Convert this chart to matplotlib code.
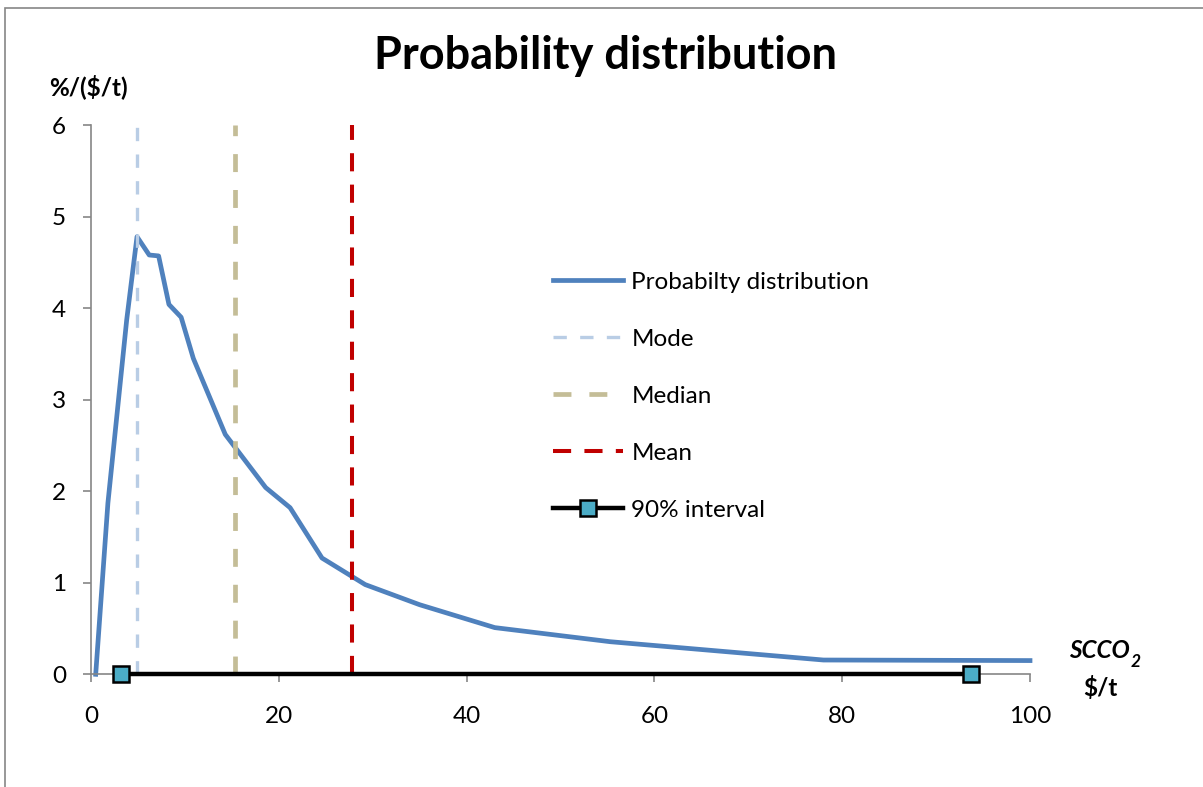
import matplotlib
matplotlib.use('Agg')
import matplotlib.pyplot as plt
from matplotlib.patches import Rectangle

plt.rcParams['font.family'] = ['Lato', 'DejaVu Sans']

# probability density
x_pdf = [0.5, 1.8, 3.8, 4.9, 6.2, 7.2, 8.3, 9.6, 10.9, 14.3, 18.6, 21.2, 24.6,
         29.2, 35.0, 43.0, 55.3, 78.0, 100.0]
y_pdf = [0.0, 1.87, 3.87, 4.78, 4.58, 4.57, 4.04, 3.90, 3.45, 2.62, 2.04, 1.82,
         1.27, 0.98, 0.76, 0.51, 0.356, 0.156, 0.15]

mode_x = 4.85
median_x = 15.3
mean_x = 27.8
interval_x = [3.2, 93.7]
interval_y = [0, 0]

fs = 17.5

fig = plt.figure(figsize=(12.03, 7.87), dpi=100)
ax = fig.add_axes([91 / 1203, 1 - 674.3 / 787, (1030 - 91) / 1203, (674.3 - 125) / 787])

ax.plot(x_pdf, y_pdf, color='#4F81BD', lw=3.4, solid_joinstyle='round',
        label='Probabilty distribution', clip_on=False, zorder=2)
ax.plot([mode_x, mode_x], [0, 6], color='#B9CDE5', lw=2.4, dashes=(4, 4),
        label='Mode', zorder=3)
ax.plot([median_x, median_x], [0, 6], color='#C4BD97', lw=3.4, dashes=(3.8, 3.8),
        label='Median', zorder=3)
ax.plot([mean_x, mean_x], [0, 6], color='#C00000', lw=2.9, dashes=(4.5, 3.3),
        label='Mean', zorder=3)
ax.plot(interval_x, interval_y, color='black', lw=3.2, marker='s', ms=12,
        mfc='#4BACC6', mec='black', mew=1.8, label='90% interval',
        clip_on=False, zorder=4)

ax.set_xlim(0, 100)
ax.set_ylim(0, 6)
ax.set_xticks([0, 20, 40, 60, 80, 100])
ax.set_yticks([0, 1, 2, 3, 4, 5, 6])
for s in ['top', 'right']:
    ax.spines[s].set_visible(False)
for s in ['left', 'bottom']:
    ax.spines[s].set_color('#868686')
    ax.spines[s].set_linewidth(1.2)
ax.tick_params(axis='both', colors='#868686', labelcolor='black', labelsize=fs,
               length=6, width=1.2)
ax.tick_params(axis='x', pad=17)
ax.tick_params(axis='y', pad=12)

ax.legend(loc='upper left', bbox_to_anchor=(531 / 1203, 1 - 250 / 787),
          bbox_transform=fig.transFigure, frameon=False, fontsize=fs,
          handlelength=2.9, handletextpad=0.33, labelspacing=1.48)

fig.text(605 / 1203, 1 - 56 / 787, 'Probability distribution', ha='center',
         va='center', fontsize=32.5, fontweight='bold')
fig.text(88 / 1203, 1 - 87 / 787, '%/($/t)', ha='center', va='center',
         fontsize=fs, fontweight='bold')
fig.text(1130 / 1203, 1 - 650 / 787, 'SCCO', ha='right', va='center',
         fontsize=fs, fontweight='bold', style='italic')
fig.text(1131 / 1203, 1 - 662 / 787, '2', ha='left', va='center',
         fontsize=12.5, fontweight='bold', style='italic')
fig.text(1100 / 1203, 1 - 688 / 787, '$/t', ha='center', va='center',
         fontsize=fs, fontweight='bold')

fig.patches.append(Rectangle((5 / 1203, -0.05), 1.2, 1 - 8 / 787 + 0.05,
                             transform=fig.transFigure, fill=False,
                             edgecolor='#868686', lw=1.2))

fig.savefig('out.png', dpi=100)
